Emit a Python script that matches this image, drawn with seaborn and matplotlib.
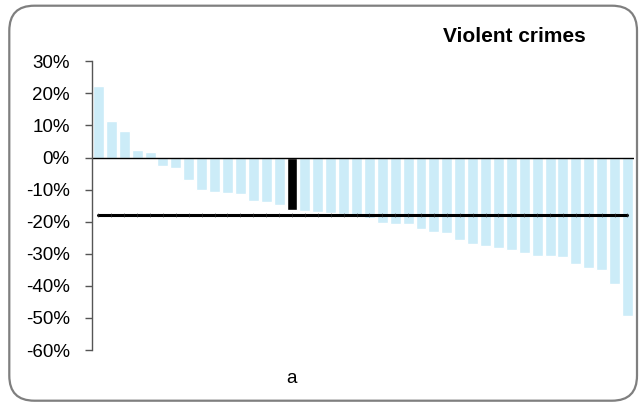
import pandas as pd
import numpy as np
import seaborn as sns
import matplotlib.pyplot as plt
from matplotlib.patches import FancyBboxPatch

# percent change per area, sorted; the highlighted area is "a"
changes = [22.2, 11.3, 8.2, 2.3, 1.7, -2.6, -3.2, -7.0, -10.1, -10.7,
           -11.0, -11.5, -13.5, -13.8, -14.7, -16.3, -16.6, -16.9, -17.3, -17.6,
           -17.8, -18.9, -20.4, -20.7, -20.7, -22.2, -23.2, -23.5, -25.7, -26.9,
           -27.5, -28.1, -28.8, -29.7, -30.6, -30.6, -31.0, -33.1, -34.4, -35.0,
           -39.4, -49.3]
highlight_label = 'a'
highlight_index = 15
average = -18.0
title = 'Violent crimes'
yticks = [30, 20, 10, 0, -10, -20, -30, -40, -50, -60]

df = pd.DataFrame({'rank': np.arange(len(changes)), 'change': changes})
df['highlight'] = df['rank'] == highlight_index

sns.set_style('white')
plt.rcParams['font.family'] = ['Liberation Sans', 'DejaVu Sans']
plt.rcParams['text.color'] = 'black'
plt.rcParams['xtick.color'] = 'black'
plt.rcParams['ytick.color'] = 'black'

fig = plt.figure(figsize=(6.39, 4.03), dpi=100)
ax = fig.add_axes([0.144, 0.1315, 0.848, 0.7165])

sns.barplot(data=df, x='rank', y='change', hue='highlight',
            palette={False: '#CCECF8', True: 'black'}, width=0.85,
            saturation=1, legend=False, ax=ax)
sns.lineplot(x=df['rank'], y=[average] * len(df), color='black', linewidth=2.2,
             marker='|', markersize=2.5, markeredgewidth=0.4,
             markeredgecolor='#333333', ax=ax)
ax.axhline(0, color='black', linewidth=1)

ax.set_ylim(-60, 30)
ax.set_xlim(-0.5, len(changes) - 0.5)
ax.set_yticks(yticks)
ax.set_yticklabels([f'{v}%' for v in yticks], fontsize=13.5)
ax.set_xticks([highlight_index])
ax.set_xticklabels([highlight_label], fontsize=13.5)
ax.tick_params(axis='x', length=0, pad=14.5)
ax.tick_params(axis='y', length=5, width=1, color='#555555', pad=11, direction='out', left=True)
ax.set_xlabel('')
ax.set_ylabel('')
for s in ['top', 'right', 'bottom']:
    ax.spines[s].set_visible(False)
ax.spines['left'].set_color('#555555')
ax.spines['left'].set_linewidth(1)

fig.text(585.7 / 639, 1 - 41.7 / 403, title, ha='right', va='baseline',
         fontsize=15, fontweight='bold', color='black')

border = FancyBboxPatch((0.093, 0.023), 6.277, 3.95,
                        boxstyle='round,pad=0,rounding_size=0.25',
                        transform=fig.dpi_scale_trans, facecolor='none',
                        edgecolor='#7f7f7f', linewidth=1.6)
fig.patches.append(border)

fig.savefig('out.png', dpi=100)
